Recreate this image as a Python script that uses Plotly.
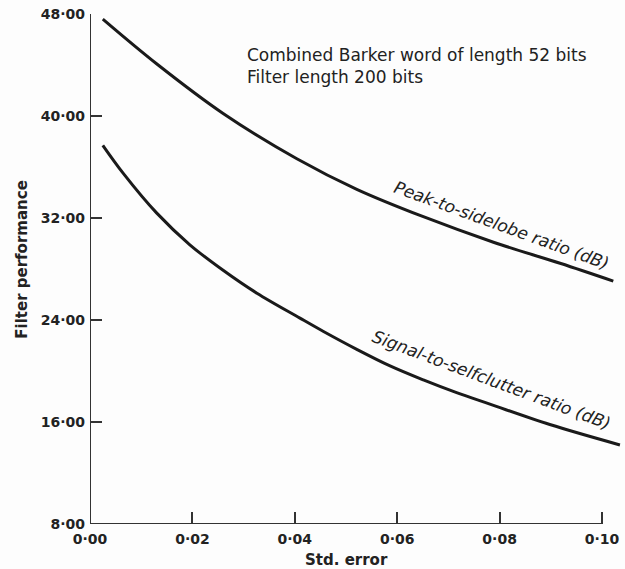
import plotly.graph_objects as go

# Filter performance versus standard error of the filter weights
std_err_psl = [0.0025, 0.0130, 0.0260, 0.0404, 0.0521, 0.0651, 0.0788, 0.0918, 0.1022]
peak_to_sidelobe = [47.6, 44.1, 40.2, 36.65, 34.25, 32.1, 30.1, 28.45, 27.05]

std_err_ssc = [0.0025, 0.0065, 0.0130, 0.0195, 0.0260, 0.0326, 0.0410, 0.0456,
               0.0521, 0.0586, 0.0651, 0.0716, 0.0781, 0.0898, 0.1035]
signal_to_selfclutter = [37.7, 35.5, 32.4, 29.9, 27.9, 26.1, 24.15, 23.1,
                         21.7, 20.4, 19.3, 18.3, 17.4, 15.8, 14.2]

x_ticks = [0.00, 0.02, 0.04, 0.06, 0.08, 0.10]
x_tick_labels = ["0·00", "0·02", "0·04", "0·06", "0·08", "0·10"]
y_ticks = [8, 16, 24, 32, 40, 48]
y_tick_labels = ["8·00", "16·00", "24·00", "32·00", "40·00", "48·00"]

INK = "#222222"
FONT = "DejaVu Sans"

fig = go.Figure()
fig.add_trace(go.Scatter(x=std_err_psl, y=peak_to_sidelobe, mode="lines",
                         line=dict(color="#1a1a1a", width=3, shape="spline"),
                         showlegend=False))
fig.add_trace(go.Scatter(x=std_err_ssc, y=signal_to_selfclutter, mode="lines",
                         line=dict(color="#1a1a1a", width=3, shape="spline"),
                         showlegend=False))

# L-shaped axes ending at the last tick
fig.add_shape(type="line", xref="x", yref="y", x0=0, x1=0, y0=8, y1=48,
              line=dict(color="#333333", width=2))
fig.add_shape(type="line", xref="x", yref="y", x0=0, x1=0.10, y0=8, y1=8,
              line=dict(color="#333333", width=2))

fig.add_annotation(x=0.0303, y=43.9, xref="x", yref="y", xanchor="left",
                   text="Combined Barker word of length 52 bits<br>Filter length 200 bits",
                   showarrow=False, align="left",
                   font=dict(family=FONT, size=17, color=INK))
fig.add_annotation(x=0.0803, y=31.45, xref="x", yref="y", textangle=20,
                   text="<i>Peak-to-sidelobe ratio (dB)</i>", showarrow=False,
                   font=dict(family=FONT, size=17, color=INK))
fig.add_annotation(x=0.0785, y=19.3, xref="x", yref="y", textangle=20.5,
                   text="<i>Signal-to-selfclutter ratio (dB)</i>", showarrow=False,
                   font=dict(family=FONT, size=17, color=INK))

# Axis titles, centred on the drawn axis lines
fig.add_annotation(x=0.05, xref="x", y=-0.0706, yref="paper", yanchor="middle",
                   text="Std. error", showarrow=False,
                   font=dict(family=FONT, size=15, color=INK, weight="bold"))
fig.add_annotation(x=-0.128, xref="paper", y=0.52, yref="paper", xanchor="center",
                   yanchor="middle", textangle=-90,
                   text="Filter performance", showarrow=False,
                   font=dict(family=FONT, size=15, color=INK, weight="bold"))

fig.update_xaxes(range=[0, 0.1039], showline=False, showgrid=False, zeroline=False,
                 tickmode="array", tickvals=x_ticks, ticktext=x_tick_labels,
                 ticks="inside", ticklen=12, tickwidth=2, tickcolor="#333333",
                 ticklabelstandoff=5,
                 tickfont=dict(family=FONT, size=14, color=INK, weight="bold"))
fig.update_yaxes(range=[8, 48], showline=False, showgrid=False, zeroline=False,
                 tickmode="array", tickvals=y_ticks, ticktext=y_tick_labels,
                 ticks="inside", ticklen=12, tickwidth=2, tickcolor="#333333",
                 ticklabelstandoff=4,
                 tickfont=dict(family=FONT, size=14, color=INK, weight="bold"))

fig.update_layout(width=625, height=569,
                  margin=dict(l=90, r=3, t=14, b=45),
                  paper_bgcolor="#fdfdfd", plot_bgcolor="#fdfdfd")

fig.write_html("out.html")
